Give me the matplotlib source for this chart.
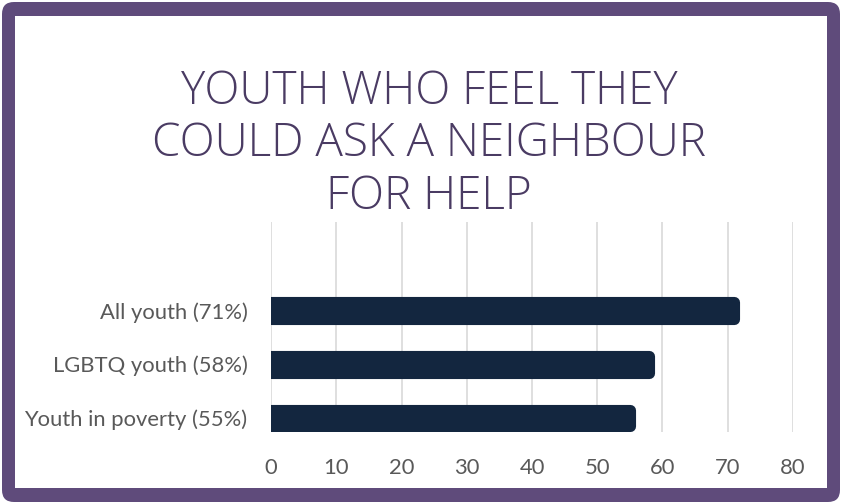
import matplotlib.pyplot as plt
from matplotlib.patches import FancyBboxPatch, Rectangle

# Survey results
groups = ["Youth in poverty", "LGBTQ youth", "All youth"]
percent = [55, 58, 71]
x_ticks = [0, 10, 20, 30, 40, 50, 60, 70, 80]
title = "YOUTH WHO FEEL THEY\nCOULD ASK A NEIGHBOUR\nFOR HELP"

W, H = 842, 504
fig = plt.figure(figsize=(W / 100, H / 100), dpi=100, facecolor="white")

# purple frame with rounded outer corners, white panel inside
frame = FancyBboxPatch((2, 2), W - 4, H - 4, boxstyle="round,pad=0,rounding_size=12",
                       transform=None, facecolor="#5f4b7b", edgecolor="none", zorder=-3)
fig.add_artist(frame)
panel = Rectangle((15 / W, 16 / H), (827 - 15) / W, (488 - 16) / H,
                  transform=fig.transFigure, facecolor="white", edgecolor="none", zorder=-2)
fig.add_artist(panel)

ax = fig.add_axes([271 / W, (H - 432) / H, (793 - 271) / W, (432 - 222) / H])
ax.set_facecolor("none")

labels = [f"{g} ({p}%)" for g, p in zip(groups, percent)]
pos = range(len(groups))
bars = ax.barh(pos, percent, height=0.31, color="#13263f", edgecolor="#13263f",
               linewidth=8, zorder=3)
for b in bars:
    b.set_joinstyle("round")

ax.set_xlim(0, 80)
ax.set_ylim(-0.26, 3.64)
ax.set_xticks(x_ticks)
ax.set_yticks(list(pos))
ax.set_yticklabels(labels)
ax.grid(axis="x", color="#d9d9d9", linewidth=1.2, zorder=0)
for s in ax.spines.values():
    s.set_visible(False)
ax.tick_params(axis="both", length=0, labelsize=15.8, labelcolor="#595959")
ax.tick_params(axis="y", pad=17)
ax.tick_params(axis="x", pad=19)
for t in ax.get_xticklabels() + ax.get_yticklabels():
    t.set_fontfamily("Lato")

fig.text(429 / W, 1 - 69 / H, title, ha="center", va="top", multialignment="center",
         fontsize=33, fontfamily="Open Sans", fontweight="light", color="#4a3b63",
         linespacing=1.18)

fig.savefig("out.png", dpi=100)
